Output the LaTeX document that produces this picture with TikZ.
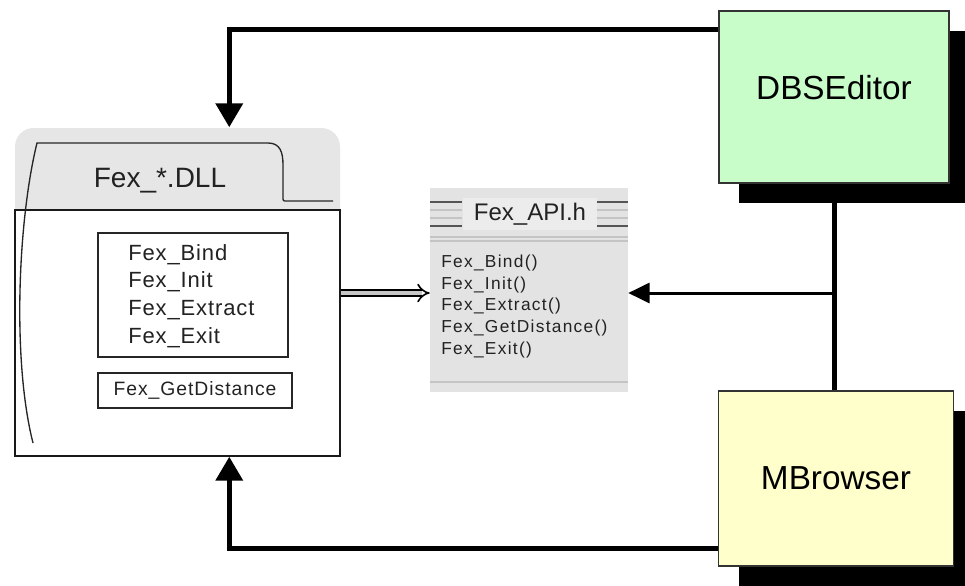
\documentclass[tikz,border=0pt]{standalone}
\usepackage{fontspec}
\setmainfont{Liberation Sans}
\usetikzlibrary{arrows.meta,positioning,calc,shadows}
\definecolor{dbsgreen}   {HTML}{C8FCC8}
\definecolor{mbryellow}  {HTML}{FFFFCC}
\definecolor{tabgray}    {HTML}{E6E6E6}
\definecolor{apigray}    {HTML}{E3E3E3}
\definecolor{apilight}   {HTML}{ECECEC}
\definecolor{stripedark} {HTML}{555555}
\definecolor{stripelight}{HTML}{C4C4C4}
\definecolor{txtgray}    {HTML}{222222}

\begin{document}
\begin{tikzpicture}[
  x=0.75pt,y=-0.75pt,
  app/.style={draw=black!80,line width=1.1pt,inner sep=0pt,
              minimum width=172.5pt,minimum height=129pt,
              font=\fontsize{25}{30}\selectfont,
              drop shadow={shadow xshift=15pt,shadow yshift=-15pt,
                           fill=black,opacity=1}},
  fnbox/.style={draw=black!85,line width=1pt,fill=white,inner sep=0pt},
  fntext/.style={align=left,inner sep=0pt,text=txtgray},
  conn/.style={line width=3.75pt,-{Triangle[width=20pt,length=18pt]}},
  thin conn/.style={line width=2.25pt,-{Triangle[width=15pt,length=16pt]}},
  hollow/.style={line width=1.2pt,double=gray!45,double distance=3.6pt,
                 -{Implies}},
  tabline/.style={line width=1pt,black!85}
]
\clip (0,0) rectangle (965,586);
\fill[white] (0,0) rectangle (965,586);

% DLL package
\fill[tabgray,rounded corners=14pt] (15,128) rectangle (340,240);
\node[draw=black!90,line width=1.1pt,fill=white,inner sep=0pt,
      minimum width=243.75pt,minimum height=184.5pt] (dll) at (177.5,333) {};
\node[inner sep=0pt,minimum width=184.5pt,minimum height=43.5pt,
      text height=27pt,font=\fontsize{21}{25}\selectfont,text=txtgray]
      (dlltab) at (160,172) {Fex\_*.DLL};
\draw[tabline] (33,443) .. controls (12,360) and (18,220) .. (37,143)
  -- (268,143) .. controls (280,143) and (283,152) .. (283,165)
  -- (283,197) .. controls (283,201) .. (287,201) -- (333,201);

% exported functions
\node[fnbox,minimum width=142.5pt,minimum height=93pt] (exports) at (193,295) {};
\node[fntext,anchor=west,
      font={\fontsize{16.5}{20.8}\selectfont\addfontfeatures{LetterSpace=4}}]
      (exptxt) at (128,296) {Fex\_Bind\\Fex\_Init\\Fex\_Extract\\Fex\_Exit};
\node[fnbox,minimum width=145.5pt,minimum height=26.25pt,text=txtgray,
      font={\fontsize{14.5}{17}\selectfont\addfontfeatures{LetterSpace=5}}]
      (getdist) at (195,390.5) {Fex\_GetDistance};

% header file
\node[fill=apigray,inner sep=0pt,minimum width=148.5pt,minimum height=153pt]
      (api) at (529,290) {};
\node[fill=apilight,inner sep=0pt,minimum width=100pt,minimum height=24pt,
      font=\fontsize{18}{21}\selectfont,text=txtgray] (apititle) at (530,214) {Fex\_API.h};
\foreach \yy/\cc in {202/stripedark,210/stripelight,218/stripelight,226/stripedark}{
  \draw[\cc,line width=1.5pt] (430,\yy) -- (462,\yy);
  \draw[\cc,line width=1.5pt] (597,\yy) -- (628,\yy);
}
\draw[stripelight,line width=1pt] (430,237) -- (628,237);
\draw[stripelight,line width=1pt] (430,241) -- (628,241);
\draw[stripelight,line width=1.2pt] (430,382) -- (628,382);
\node[fntext,anchor=west,
      font={\fontsize{13}{16.3}\selectfont\addfontfeatures{LetterSpace=7.5}}]
      (apitxt) at (441,306.5)
      {Fex\_Bind()\\Fex\_Init()\\Fex\_Extract()\\Fex\_GetDistance()\\Fex\_Exit()};

% applications
\node[app,fill=dbsgreen,text depth=15pt] (dbs) at (834,97) {DBSEditor};
\node[app,fill=mbryellow,minimum width=176.25pt,minimum height=131.25pt]
      (mbr) at (836,478.5) {MBrowser};

% connectors
\draw[conn] ($(dbs.north west)+(0,19)$) -| ($(dll.north west)+(215,-82)$);
\draw[conn] ($(mbr.south west)+(0,-18)$) -| ($(dll.south west)+(215,0)$);
\draw[line width=3.75pt] (dbs.south) -- (dbs.south |- mbr.north);
\draw[thin conn] ($(dbs.south |- api.east)+(0,3)$) -- ($(api.east)+(0,3)$);
\draw[hollow] ($(dll.east |- api.west)+(0,3)$) -- ($(api.west)+(0,3)$);
\end{tikzpicture}
\end{document}
